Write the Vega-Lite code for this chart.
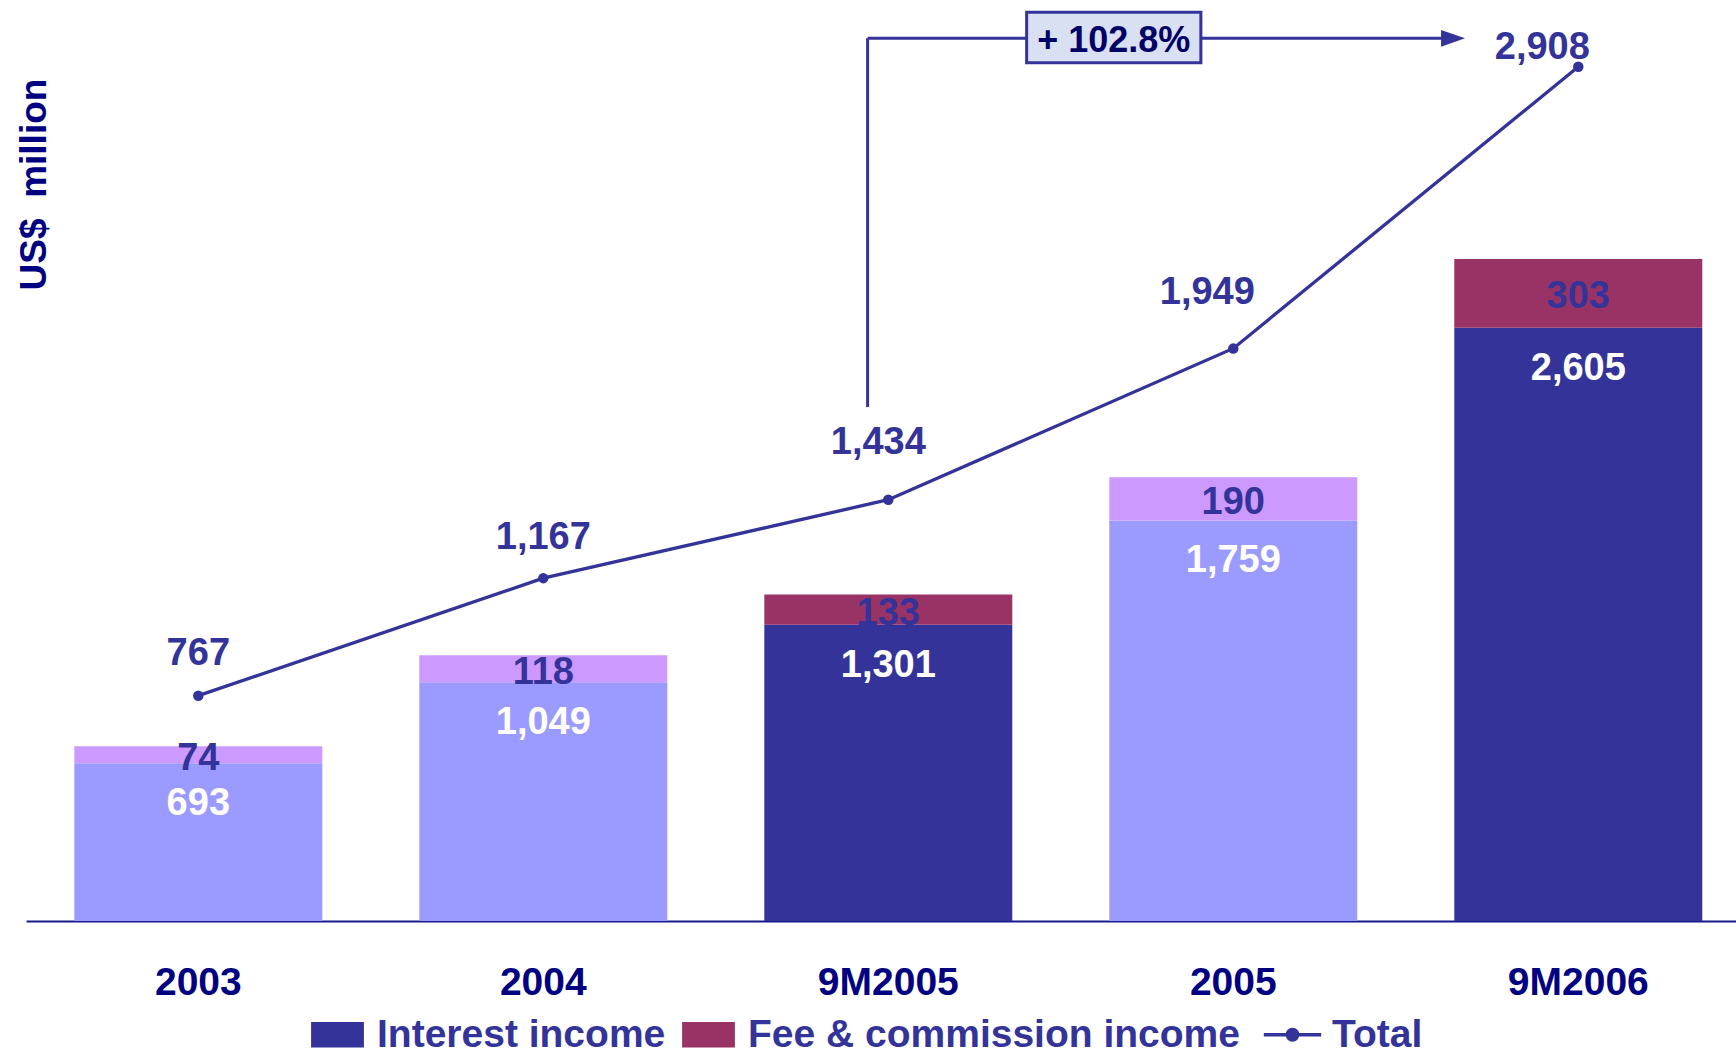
{
  "$schema": "https://vega.github.io/schema/vega-lite/v6.json",
  "width": 1710,
  "height": 921,
  "autosize": {"type": "none"},
  "padding": {"left": 26, "top": 0, "right": 0, "bottom": 135},
  "background": "white",
  "config": {
    "view": {"stroke": null},
    "font": "Liberation Sans",
    "axisX": {
      "ticks": false, "tickSize": 0, "grid": false, "title": null,
      "labelFont": "Liberation Sans", "labelFontWeight": "bold", "labelFontSize": 39,
      "labelColor": "#000080", "labelPadding": 61, "labelBaseline": "middle",
      "labelAngle": 0, "labelOverlap": false, "labelLimit": 0,
      "domainColor": "#1A1A8C", "domainWidth": 2
    },
    "axisY": {
      "labels": false, "ticks": false, "domain": false, "grid": false,
      "titleAngle": 270, "titleX": 19, "titleY": 184, "titleAlign": "center",
      "titleBaseline": "alphabetic", "titleFont": "Liberation Sans", "titleFontSize": 37,
      "titleFontWeight": "bold", "titleColor": "#000080", "titlePadding": 0
    }
  },
  "datasets": {
    "income": [
      {"period": "2003", "kind": "FY", "interest": 693, "fee": 74, "total": 767},
      {"period": "2004", "kind": "FY", "interest": 1049, "fee": 118, "total": 1167},
      {"period": "9M2005", "kind": "9M", "interest": 1301, "fee": 133, "total": 1434},
      {"period": "2005", "kind": "FY", "interest": 1759, "fee": 190, "total": 1949},
      {"period": "9M2006", "kind": "9M", "interest": 2605, "fee": 303, "total": 2908}
    ],
    "arrow": [
      {"x": 1.94, "y": 1749.6, "x2": 1.94, "y2": 3004.6},
      {"x": 1.94, "y": 3004.6, "x2": 3.62, "y2": 3004.6}
    ],
    "head": [{"x": 3.637, "y": 3004.6}],
    "box": [{"x": 2.401, "x2": 2.906, "y": 2921, "y2": 3093, "xc": 2.6535, "yc": 3007, "label": "+ 102.8%"}]
  },
  "layer": [
    {
      "data": {"name": "income"},
      "encoding": {
        "x": {
          "field": "period", "type": "nominal",
          "scale": {"type": "band", "domain": ["2003", "2004", "9M2005", "2005", "9M2006"], "paddingInner": 0.2812, "paddingOuter": 0.1189, "align": 0.589},
          "axis": {"title": null}
        }
      },
      "layer": [
        {
          "mark": {"type": "bar"},
          "encoding": {
            "y": {"field": "interest", "type": "quantitative", "scale": {"domain": [0, 4045], "nice": false, "zero": true}, "axis": {"title": "US$\u00a0\u00a0million"}},
            "color": {
              "datum": "Interest income",
              "condition": {"test": "datum.kind === 'FY'", "value": "#9B9BFF"},
              "scale": {"domain": ["Interest income", "Fee & commission income", "Total"], "range": ["#333399", "#993366", "#333399"]},
              "legend": {
                "orient": "none", "legendX": 292, "legendY": 1015, "direction": "horizontal",
                "title": null, "padding": 0,
                "values": ["Interest income", "Fee & commission income", "Total"],
                "symbolSize": 3295, "labelFont": "Liberation Sans", "labelFontSize": 39,
                "labelFontWeight": "bold", "labelColor": "#333399", "labelOffset": 20,
                "columnPadding": 16, "labelLimit": 0,
                "encode": {
                  "symbols": {
                    "update": {
                      "shape": {"signal": "datum.value === 'Total' ? 'M-1,0H1M0.18,0A0.18,0.18,0,1,1,-0.18,0A0.18,0.18,0,1,1,0.18,0Z' : 'M-0.92,-0.44H0.92V0.44H-0.92Z'"},
                      "fill": {"signal": "datum.value === 'Fee & commission income' ? '#993366' : '#333399'"},
                      "stroke": {"value": "#333399"},
                      "strokeWidth": {"signal": "datum.value === 'Total' ? 3.5 : 0"},
                      "opacity": {"value": 1},
                      "fillOpacity": {"value": 1},
                      "strokeOpacity": {"value": 1}
                    }
                  }
                }
              }
            }
          }
        },
        {
          "mark": {"type": "bar"},
          "encoding": {
            "y": {"field": "total", "type": "quantitative", "scale": {"domain": [0, 4045], "nice": false, "zero": true}, "axis": {"title": "US$\u00a0\u00a0million"}},
            "y2": {"field": "interest"},
            "color": {
              "datum": "Fee & commission income",
              "condition": {"test": "datum.kind === 'FY'", "value": "#CC99FF"}
            }
          }
        },
        {
          "mark": {"type": "text", "color": "white", "fontSize": 38, "fontWeight": "bold", "baseline": "middle", "align": "center", "dy": 41},
          "encoding": {
            "y": {"field": "interest", "type": "quantitative", "scale": {"domain": [0, 4045], "nice": false, "zero": true}, "axis": {"title": "US$\u00a0\u00a0million"}},
            "text": {"field": "interest", "type": "quantitative", "format": ","}
          }
        },
        {
          "transform": [{"calculate": "(datum.interest + datum.total) / 2", "as": "mid"}],
          "mark": {"type": "text", "color": "#333399", "fontSize": 38, "fontWeight": "bold", "baseline": "middle", "align": "center", "dy": 4},
          "encoding": {
            "y": {"field": "mid", "type": "quantitative", "scale": {"domain": [0, 4045], "nice": false, "zero": true}, "axis": {"title": "US$\u00a0\u00a0million"}},
            "text": {"field": "fee", "type": "quantitative", "format": ","}
          }
        }
      ]
    },
    {
      "data": {"name": "income"},
      "encoding": {
        "x": {
          "field": "period", "type": "nominal",
          "scale": {"type": "band", "domain": ["2003", "2004", "9M2005", "2005", "9M2006"], "paddingInner": 0.2812, "paddingOuter": 0.1189, "align": 0.589},
          "axis": null
        },
        "y": {"field": "total", "type": "quantitative", "scale": {"domain": [0, 3135], "nice": false, "zero": true}, "axis": null}
      },
      "layer": [
        {
          "mark": {"type": "line", "strokeWidth": 3.3},
          "encoding": {"color": {"datum": "Total"}}
        },
        {
          "mark": {"type": "point", "filled": true, "size": 110, "opacity": 1},
          "encoding": {"color": {"datum": "Total"}}
        },
        {
          "transform": [{"filter": "datum.period === '2003'"}],
          "mark": {"type": "text", "color": "#333399", "fontSize": 38, "fontWeight": "bold", "baseline": "middle", "align": "center", "dy": -42},
          "encoding": {"text": {"field": "total", "type": "quantitative", "format": ","}}
        },
        {
          "transform": [{"filter": "datum.period === '2004'"}],
          "mark": {"type": "text", "color": "#333399", "fontSize": 38, "fontWeight": "bold", "baseline": "middle", "align": "center", "dy": -40},
          "encoding": {"text": {"field": "total", "type": "quantitative", "format": ","}}
        },
        {
          "transform": [{"filter": "datum.period === '9M2005'"}],
          "mark": {"type": "text", "color": "#333399", "fontSize": 38, "fontWeight": "bold", "baseline": "middle", "align": "center", "dy": -57, "dx": -10},
          "encoding": {"text": {"field": "total", "type": "quantitative", "format": ","}}
        },
        {
          "transform": [{"filter": "datum.period === '2005'"}],
          "mark": {"type": "text", "color": "#333399", "fontSize": 38, "fontWeight": "bold", "baseline": "middle", "align": "center", "dy": -55, "dx": -26},
          "encoding": {"text": {"field": "total", "type": "quantitative", "format": ","}}
        },
        {
          "transform": [{"filter": "datum.period === '9M2006'"}],
          "mark": {"type": "text", "color": "#333399", "fontSize": 38, "fontWeight": "bold", "baseline": "middle", "align": "center", "dy": -19, "dx": -36},
          "encoding": {"text": {"field": "total", "type": "quantitative", "format": ","}}
        }
      ]
    },
    {
      "layer": [
        {
          "data": {"name": "arrow"},
          "mark": {"type": "rule", "color": "#333399", "strokeWidth": 3},
          "encoding": {
            "x": {"field": "x", "type": "quantitative", "scale": {"domain": [-0.4994, 4.4571], "nice": false, "zero": false}, "axis": null},
            "x2": {"field": "x2"},
            "y": {"field": "y", "type": "quantitative", "scale": {"domain": [0, 3135], "nice": false, "zero": true}, "axis": null},
            "y2": {"field": "y2"}
          }
        },
        {
          "data": {"name": "head"},
          "mark": {"type": "point", "filled": true, "opacity": 1, "color": "#333399", "size": 576, "shape": "M-1,-0.7L1,0L-1,0.7Z"},
          "encoding": {
            "x": {"field": "x", "type": "quantitative", "scale": {"domain": [-0.4994, 4.4571], "nice": false, "zero": false}, "axis": null},
            "y": {"field": "y", "type": "quantitative", "scale": {"domain": [0, 3135], "nice": false, "zero": true}, "axis": null}
          }
        },
        {
          "data": {"name": "box"},
          "mark": {"type": "rect", "fill": "#D8E0F2", "stroke": "#333399", "strokeWidth": 3},
          "encoding": {
            "x": {"field": "x", "type": "quantitative", "scale": {"domain": [-0.4994, 4.4571], "nice": false, "zero": false}, "axis": null},
            "x2": {"field": "x2"},
            "y": {"field": "y", "type": "quantitative", "scale": {"domain": [0, 3135], "nice": false, "zero": true}, "axis": null},
            "y2": {"field": "y2"}
          }
        },
        {
          "data": {"name": "box"},
          "mark": {"type": "text", "color": "#000066", "fontSize": 36, "fontWeight": "bold", "baseline": "middle", "align": "center", "dy": 3},
          "encoding": {
            "x": {"field": "xc", "type": "quantitative", "scale": {"domain": [-0.4994, 4.4571], "nice": false, "zero": false}, "axis": null},
            "y": {"field": "yc", "type": "quantitative", "scale": {"domain": [0, 3135], "nice": false, "zero": true}, "axis": null},
            "text": {"field": "label"}
          }
        }
      ]
    }
  ],
  "resolve": {"scale": {"x": "independent", "y": "independent"}}
}
